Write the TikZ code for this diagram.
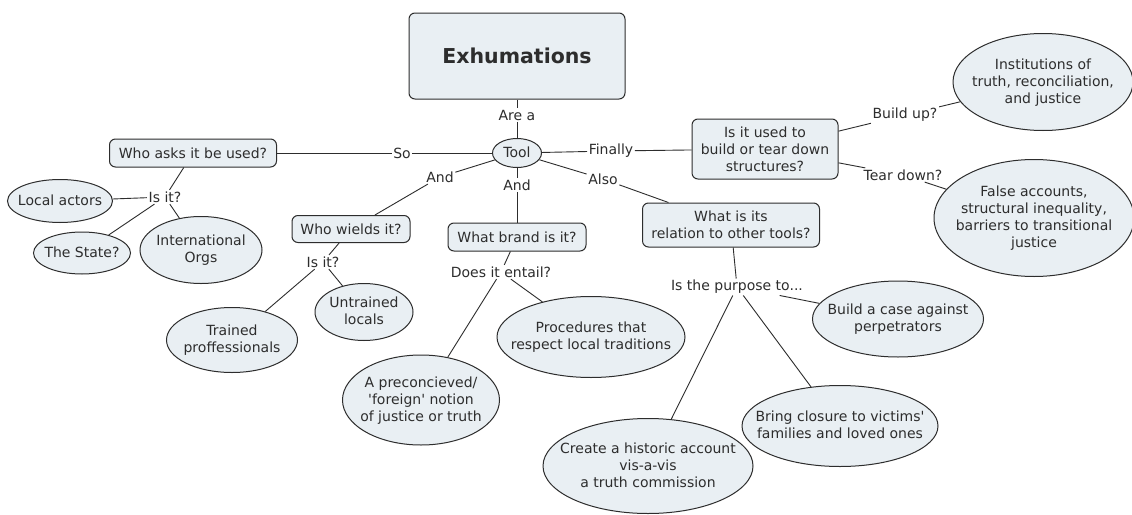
\documentclass[tikz,border=0pt]{standalone}
\usepackage{fontspec}
\setmainfont{DejaVu Sans}[Ligatures=TeXOff]
\usetikzlibrary{shapes.geometric}
\definecolor{nodefill}{RGB}{233,239,243}
\definecolor{linecol}{RGB}{45,45,45}
\newcommand{\ctext}[1]{\makebox[0pt]{\raisebox{-0.3em}[0pt][0pt]{\begin{tabular}{@{}c@{}}#1\end{tabular}}}}
\begin{document}
\begin{tikzpicture}[x=1pt,y=-1pt,
  every node/.style={font=\fontsize{14}{17}\selectfont, text=linecol},
  box/.style={draw=linecol, line width=1pt, fill=nodefill, rounded corners=6pt, align=center, inner sep=0pt},
  ell/.style={draw=linecol, line width=1pt, fill=nodefill, ellipse, inner sep=0pt},
  lab/.style={inner sep=1.5pt, align=center},
  conn/.style={draw=linecol, line width=0.9pt}]
\useasboundingbox (0,0) rectangle (1132,514);
\fill[white] (0,0) rectangle (1132,514);

% nodes
\node[box, minimum width=216pt, minimum height=86pt, font=\bfseries\fontsize{20.5}{24}\selectfont] (exh) at (517,56) {Exhumations};
\node[lab] (area) at (517,115) {Are a};
\node[ell, minimum width=49pt, minimum height=29pt] (tool) at (517,153) {\ctext{Tool}};

\node[box, minimum width=167pt, minimum height=28pt] (who) at (193,153) {Who asks it be used?};
\node[lab] (so) at (402,153) {So};
\node[lab] (isit1) at (165,197) {Is it?};
\node[ell, minimum width=105pt, minimum height=43pt] (local) at (60,201) {\ctext{Local actors}};
\node[ell, minimum width=97pt, minimum height=42pt] (state) at (82,253) {\ctext{The State?}};
\node[ell, minimum width=122pt, minimum height=67pt] (intl) at (201,250) {\ctext{International\\Orgs}};

\node[lab] (and1) at (440,177) {And};
\node[box, minimum width=118pt, minimum height=27pt] (wields) at (351,229) {Who wields it?};
\node[lab] (isit2) at (323,262) {Is it?};
\node[ell, minimum width=131pt, minimum height=65pt] (trained) at (232,340) {\ctext{Trained\\proffessionals}};
\node[ell, minimum width=98pt, minimum height=57pt] (untrained) at (364,312) {\ctext{Untrained\\locals}};

\node[lab] (and2) at (517,185) {And};
\node[box, minimum width=138pt, minimum height=28pt] (brand) at (517,237) {What brand is it?};
\node[lab] (entail) at (501,272) {Does it entail?};
\node[ell, minimum width=157pt, minimum height=90pt] (precon) at (421,400) {\ctext{A preconcieved/\\'foreign' notion\\of justice or truth}};
\node[ell, minimum width=188pt, minimum height=81pt] (proc) at (591,337) {\ctext{Procedures that\\respect local traditions}};

\node[lab] (finally) at (611,151) {Finally};
\node[box, minimum width=146pt, minimum height=60pt] (used) at (765,149) {Is it used to\\build or tear down\\structures?};
\node[lab] (buildup) at (905,115) {Build up?};
\node[lab] (teardown) at (903,175) {Tear down?};
\node[ell, minimum width=180pt, minimum height=97pt] (inst) at (1043,82) {\ctext{Institutions of\\truth, reconciliation,\\and justice}};
\node[ell, minimum width=200pt, minimum height=117pt] (false) at (1034,218) {\ctext{False accounts,\\structural inequality,\\barriers to transitional\\justice}};

\node[lab] (also) at (603,179) {Also};
\node[box, minimum width=177pt, minimum height=44pt] (rel) at (731,225) {What is its\\relation to other tools?};
\node[lab] (purpose) at (737,287) {Is the purpose to...};
\node[ell, minimum width=171pt, minimum height=76pt] (case) at (898,319) {\ctext{Build a case against\\perpetrators}};
\node[ell, minimum width=196pt, minimum height=81pt] (closure) at (840,426) {\ctext{Bring closure to victims'\\families and loved ones}};
\node[ell, minimum width=210pt, minimum height=95pt] (hist) at (648,466) {\ctext{Create a historic account\\vis-a-vis\\a truth commission}};

% connectors
\draw[conn] (exh) -- (area);
\draw[conn] (area) -- (tool);
\draw[conn] (tool) -- (so);
\draw[conn] (so) -- (who);
\draw[conn] (who) -- (isit1);
\draw[conn] (isit1) -- (local);
\draw[conn] (isit1) -- (state);
\draw[conn] (isit1) -- (intl);
\draw[conn] (tool) -- (and1);
\draw[conn] (and1) -- (wields);
\draw[conn] (wields) -- (isit2);
\draw[conn] (isit2) -- (trained);
\draw[conn] (isit2) -- (untrained);
\draw[conn] (tool) -- (and2);
\draw[conn] (and2) -- (brand);
\draw[conn] (brand) -- (entail);
\draw[conn] (entail) -- (precon);
\draw[conn] (entail) -- (proc);
\draw[conn] (tool) -- (finally);
\draw[conn] (finally) -- (used);
\draw[conn] (used) -- (buildup);
\draw[conn] (buildup) -- (inst);
\draw[conn] (used) -- (teardown);
\draw[conn] (teardown) -- (false);
\draw[conn] (tool) -- (also);
\draw[conn] (also) -- (rel);
\draw[conn] (rel) -- (purpose);
\draw[conn] (purpose) -- (case);
\draw[conn] (purpose) -- (closure);
\draw[conn] (purpose) -- (hist);
\end{tikzpicture}
\end{document}
